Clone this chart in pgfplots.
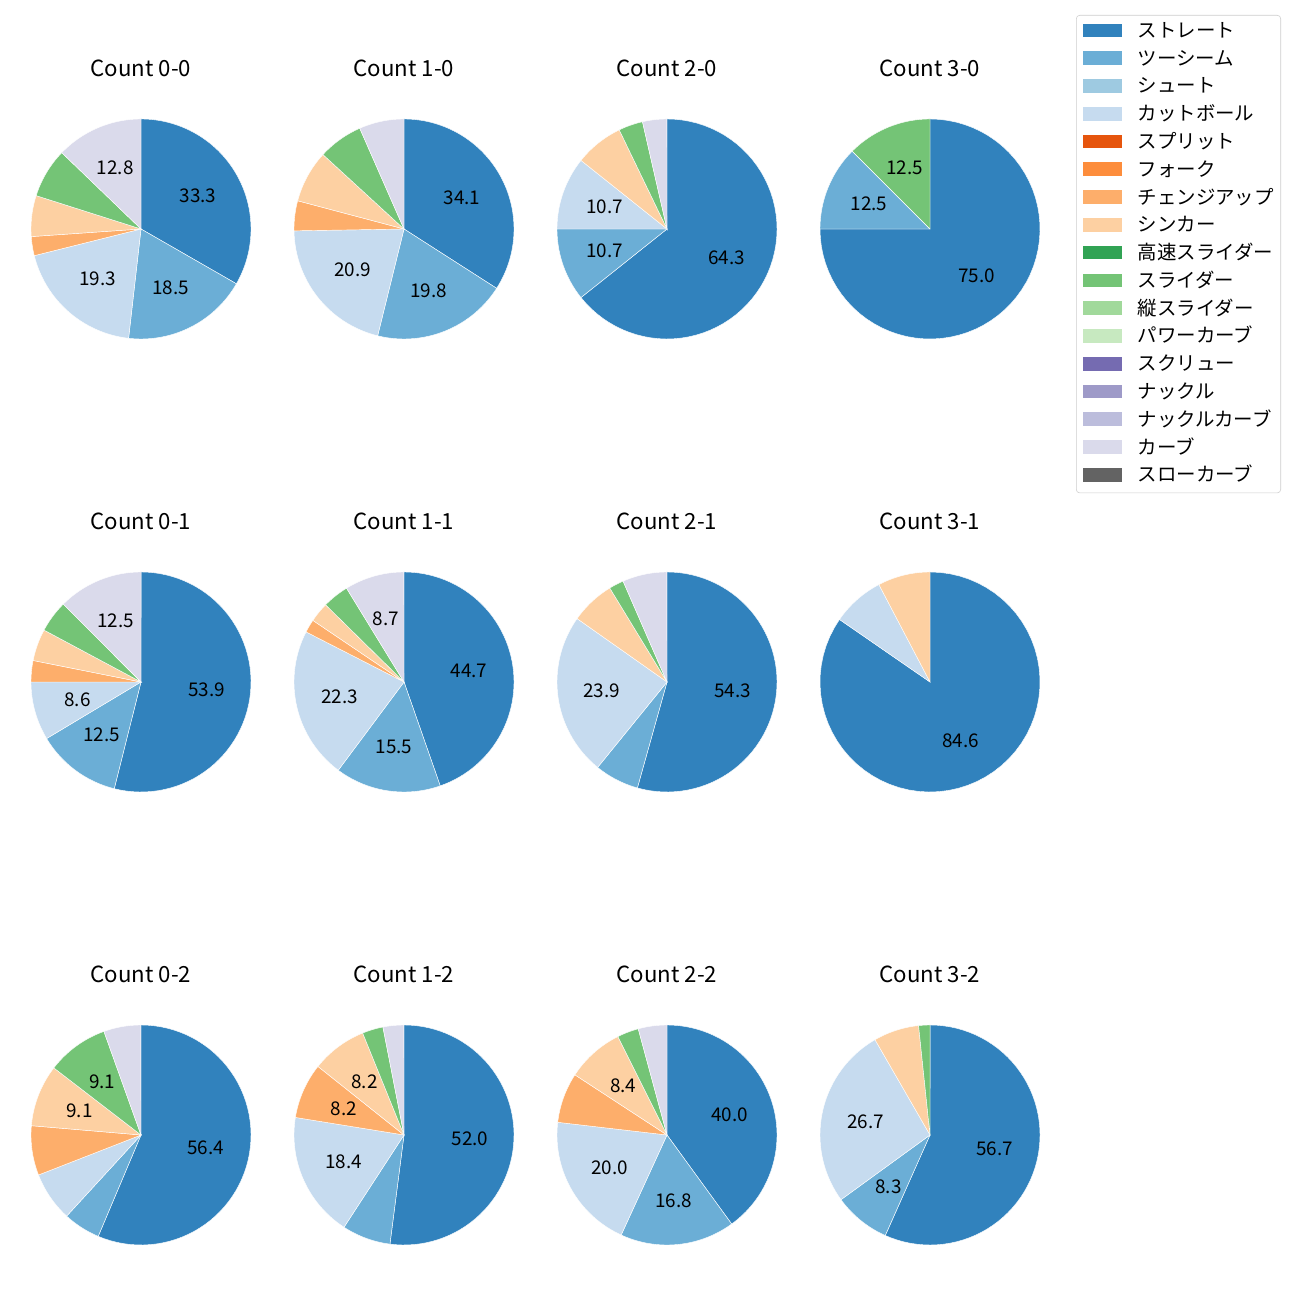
\documentclass[border=0pt]{standalone}
\usepackage{pgfplots}
\pgfplotsset{compat=1.18}
\usepackage{fontspec}
\setmainfont{Noto Sans CJK JP}

\definecolor{c1}{HTML}{3182BD}
\definecolor{c2}{HTML}{6BAED6}
\definecolor{c3}{HTML}{9ECAE1}
\definecolor{c4}{HTML}{C6DBEF}
\definecolor{c5}{HTML}{E6550D}
\definecolor{c6}{HTML}{FD8D3C}
\definecolor{c7}{HTML}{FDAE6B}
\definecolor{c8}{HTML}{FDD0A2}
\definecolor{c9}{HTML}{31A354}
\definecolor{c10}{HTML}{74C476}
\definecolor{c11}{HTML}{A1D99B}
\definecolor{c12}{HTML}{C7E9C0}
\definecolor{c13}{HTML}{756BB1}
\definecolor{c14}{HTML}{9E9AC8}
\definecolor{c15}{HTML}{BCBDDC}
\definecolor{c16}{HTML}{DADAEB}
\definecolor{c17}{HTML}{636363}

\newcommand\lblfont{\fontsize{13.6bp}{16bp}\selectfont}
\newcommand\titlefont{\fontsize{16bp}{19bp}\selectfont}

% pie data: share (percent) / colour
\def\dA{33.3/c1, 18.5/c2, 19.3/c4, 2.8/c7, 6.0/c8, 7.3/c10, 12.8/c16}
\def\dB{34.07/c1, 19.78/c2, 20.88/c4, 4.40/c7, 7.69/c8, 6.59/c10, 6.59/c16}
\def\dC{64.29/c1, 10.71/c2, 10.71/c4, 7.14/c8, 3.57/c10, 3.57/c16}
\def\dD{75.0/c1, 12.5/c2, 12.5/c10}
\def\dE{53.91/c1, 12.5/c2, 8.59/c4, 3.13/c7, 4.69/c8, 4.69/c10, 12.5/c16}
\def\dF{44.66/c1, 15.53/c2, 22.33/c4, 1.94/c7, 2.91/c8, 3.88/c10, 8.74/c16}
\def\dG{54.34/c1, 6.52/c2, 23.91/c4, 6.52/c8, 2.17/c10, 6.52/c16}
\def\dH{84.62/c1, 7.69/c4, 7.69/c8}
\def\dI{56.36/c1, 5.45/c2, 7.27/c4, 7.27/c7, 9.09/c8, 9.09/c10, 5.45/c16}
\def\dJ{52.04/c1, 7.14/c2, 18.37/c4, 8.16/c7, 8.16/c8, 3.06/c10, 3.06/c16}
\def\dK{40.0/c1, 16.84/c2, 20.0/c4, 7.37/c7, 8.42/c8, 3.16/c10, 4.21/c16}
\def\dL{56.67/c1, 8.33/c2, 26.67/c4, 6.67/c8, 1.67/c10}

\newcommand\pie[1]{%
  \gdef\cum{0}%
  \foreach \v/\c in #1 {%
    \pgfmathsetmacro\aS{90-3.6*\cum}%
    \pgfmathsetmacro\aE{90-3.6*(\cum+\v)}%
    \pgfmathsetmacro\lx{0.6*cos((\aS+\aE)/2)}%
    \pgfmathsetmacro\ly{0.6*sin((\aS+\aE)/2)}%
    \edef\tmp{\noexpand\addplot[fill=\c,draw=white,line width=0.3bp,domain=\aE:\aS,samples=60,variable=\noexpand\t]
      ({cos(\noexpand\t)},{sin(\noexpand\t)}) -- (axis cs:0,0) -- cycle;}%
    \tmp
    \pgfmathtruncatemacro\showlbl{\v>=8}%
    \ifnum\showlbl=1
      \edef\tmp{\noexpand\node[font=\noexpand\lblfont,inner sep=0pt] at (axis cs:\lx,\ly) {\noexpand\pgfmathprintnumber[fixed,fixed zerofill,precision=1,assume math mode=true]{\v}};}%
      \tmp
    \fi
    \pgfmathsetmacro\newcum{\cum+\v}%
    \xdef\cum{\newcum}%
  }%
}

\pgfplotsset{pieax/.style={hide axis, scale only axis, width=174.24bp, height=174.24bp,
  xmin=-1.1, xmax=1.1, ymin=-1.1, ymax=1.1, clip=false,
  title style={at={(0.5,1)}, anchor=center, yshift=22.5bp, font=\titlefont}}}

\newcommand\pieaxis[4]{%
  \begin{axis}[pieax, at={(#1,#2)}, anchor=center, title={#3}]
    \pie{#4}
  \end{axis}}

\begin{document}
\begin{tikzpicture}
\path (0bp,0bp) rectangle (936bp,936bp);
\pieaxis{101.52bp}{771.12bp}{Count 0-0}{\dA}
\pieaxis{290.88bp}{771.12bp}{Count 1-0}{\dB}
\pieaxis{480.24bp}{771.12bp}{Count 2-0}{\dC}
\pieaxis{669.6bp}{771.12bp}{Count 3-0}{\dD}
\pieaxis{101.52bp}{444.96bp}{Count 0-1}{\dE}
\pieaxis{290.88bp}{444.96bp}{Count 1-1}{\dF}
\pieaxis{480.24bp}{444.96bp}{Count 2-1}{\dG}
\pieaxis{669.6bp}{444.96bp}{Count 3-1}{\dH}
\pieaxis{101.52bp}{118.8bp}{Count 0-2}{\dI}
\pieaxis{290.88bp}{118.8bp}{Count 1-2}{\dJ}
\pieaxis{480.24bp}{118.8bp}{Count 2-2}{\dK}
\pieaxis{669.6bp}{118.8bp}{Count 3-2}{\dL}

\begin{axis}[at={(774.72bp,925.2bp)}, anchor=north west, hide axis, scale only axis,
  width=10bp, height=10bp, xmin=0, xmax=1, ymin=0, ymax=1,
  legend cell align=left,
  legend image code/.code={\fill[#1,sharp corners] (0bp,-2.9bp) rectangle (28bp,6.9bp);},
  legend style={at={(0,1)}, anchor=north west, draw=black!20, rounded corners=2.5bp,
    fill=white, inner xsep=5bp, inner ysep=6bp, row sep=8.1bp, column sep=11.2bp,
    font=\fontsize{14bp}{16bp}\selectfont,
    nodes={inner sep=0pt, text height=8bp, text depth=2bp}}]
\addlegendimage{fill=c1,draw=none}
\addlegendimage{fill=c2,draw=none}
\addlegendimage{fill=c3,draw=none}
\addlegendimage{fill=c4,draw=none}
\addlegendimage{fill=c5,draw=none}
\addlegendimage{fill=c6,draw=none}
\addlegendimage{fill=c7,draw=none}
\addlegendimage{fill=c8,draw=none}
\addlegendimage{fill=c9,draw=none}
\addlegendimage{fill=c10,draw=none}
\addlegendimage{fill=c11,draw=none}
\addlegendimage{fill=c12,draw=none}
\addlegendimage{fill=c13,draw=none}
\addlegendimage{fill=c14,draw=none}
\addlegendimage{fill=c15,draw=none}
\addlegendimage{fill=c16,draw=none}
\addlegendimage{fill=c17,draw=none}
\legend{ストレート,ツーシーム,シュート,カットボール,スプリット,フォーク,チェンジアップ,シンカー,高速スライダー,スライダー,縦スライダー,パワーカーブ,スクリュー,ナックル,ナックルカーブ,カーブ,スローカーブ}
\end{axis}
\end{tikzpicture}
\end{document}
